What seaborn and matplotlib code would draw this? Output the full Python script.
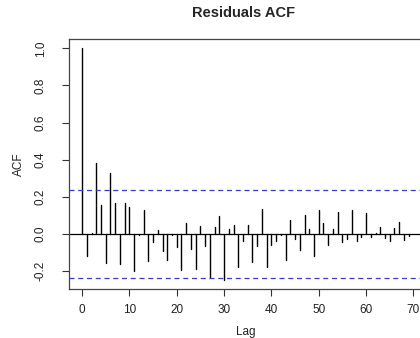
import numpy as np
import pandas as pd
import matplotlib
matplotlib.use("Agg")
import matplotlib.pyplot as plt
import seaborn as sns

lags = list(range(0, 70))
acf_values = [
    1.000, -0.121, 0.005, 0.384, 0.153, -0.157, 0.330, 0.164, -0.162, 0.167,
    0.144, -0.202, -0.007, 0.126, -0.148, -0.043, 0.023, -0.094, -0.139, -0.004,
    -0.070, -0.193, 0.056, -0.080, -0.190, 0.045, -0.067, -0.238, 0.038, 0.095,
    -0.247, 0.027, 0.047, -0.178, -0.040, 0.050, -0.150, -0.067, 0.135, -0.180,
    -0.058, -0.040, -0.004, -0.139, 0.077, -0.025, -0.088, 0.104, 0.027, -0.117,
    0.126, 0.059, -0.058, 0.027, 0.119, -0.045, -0.030, 0.126, -0.040, -0.016,
    0.110, -0.016, 0.003, 0.035, -0.024, -0.038, 0.029, 0.066, -0.031, -0.013,
]
conf_limit = 0.237
title = "Residuals ACF"
xlabel = "Lag"
ylabel = "ACF"
xticks = [0, 10, 20, 30, 40, 50, 60, 70]
yticks = [-0.2, 0.0, 0.2, 0.4, 0.6, 0.8, 1.0]

# long-form table: each lag is a vertical segment from 0 to its ACF value
rows = []
for lag, v in zip(lags, acf_values):
    rows.append({"lag": lag, "acf": 0.0, "seg": lag})
    rows.append({"lag": lag, "acf": v, "seg": lag})
df = pd.DataFrame(rows)

sns.set_style("white")
plt.rcParams["font.family"] = ["Liberation Sans", "DejaVu Sans"]

fig = plt.figure(figsize=(4.2, 3.38), dpi=100)
ax = fig.add_axes([69 / 420, 1 - 289 / 338, (421.7 - 69) / 420, (289 - 39) / 338])

sns.lineplot(data=df, x="lag", y="acf", units="seg", estimator=None,
             color="black", linewidth=1.0, ax=ax, sort=False)

ax.axhline(0, color="black", linewidth=0.9)
ax.axhline(conf_limit, color="#3a3acd", linewidth=0.9, linestyle=(0, (4, 3)))
ax.axhline(-conf_limit, color="#3a3acd", linewidth=0.9, linestyle=(0, (4, 3)))

ax.set_xlim(-2.76, 71.76)
ax.set_ylim(-0.297, 1.05)
ax.set_xticks(xticks)
ax.set_xticklabels([str(t) for t in xticks], fontsize=8.5)
ax.set_yticks(yticks)
ax.set_yticklabels([f"{t:.1f}" for t in yticks], fontsize=8.5, rotation=90, va="center")
ax.tick_params(axis="both", direction="out", length=5, width=0.8, color="#333333",
               bottom=True, left=True, labelcolor="#222222")
ax.tick_params(axis="x", pad=6)
ax.tick_params(axis="y", pad=11)

ax.spines["right"].set_visible(False)
for s in ax.spines.values():
    s.set_color("#444444")
    s.set_linewidth(0.9)

ax.set_xlabel(xlabel, fontsize=8.5, color="#222222")
ax.set_ylabel(ylabel, fontsize=8.5, color="#222222")
ax.xaxis.set_label_coords(0.5, -0.148)
ax.yaxis.set_label_coords(-0.125, 0.5)
fig.text(244 / 420, 1 - 13 / 338, title, ha="center", va="center",
         fontsize=10.5, fontweight="bold")

fig.savefig("out.png", dpi=100)
